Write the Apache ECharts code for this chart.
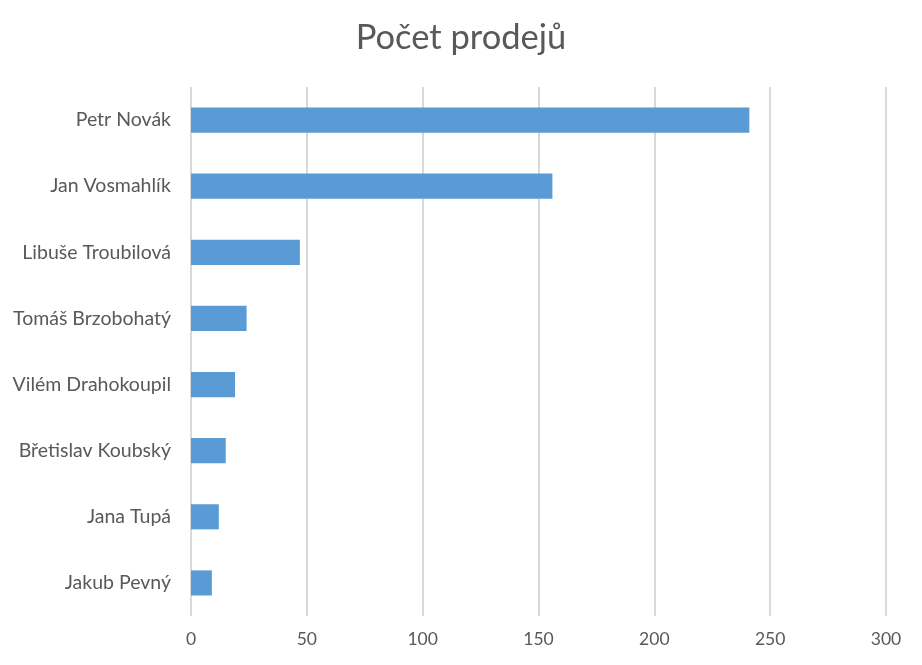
<!DOCTYPE html>
<html>
<head>
<meta charset="utf-8">
<script src="https://cdn.jsdelivr.net/npm/echarts@6/dist/echarts.min.js"></script>
<style>
html, body { margin: 0; padding: 0; background: #fff; }
#chart { width: 922px; height: 665px; }
</style>
</head>
<body>
<div id="chart"></div>
<script>
// prodejci shora dolů
var sellers = ['Petr Novák', 'Jan Vosmahlík', 'Libuše Troubilová', 'Tomáš Brzobohatý',
    'Vilém Drahokoupil', 'Břetislav Koubský', 'Jana Tupá', 'Jakub Pevný'];
var salesCount = [241, 156, 47, 24, 19, 15, 12, 9];
var axisMax = 300;
var axisStep = 50;

var textColor = '#595959';
var fontName = 'Lato, "Open Sans", sans-serif';

var chart = echarts.init(document.getElementById('chart'));

chart.setOption({
    backgroundColor: '#ffffff',
    animation: false,
    title: {
        text: 'Počet prodejů',
        left: 'center',
        top: 15,
        textStyle: { color: textColor, fontSize: 34.5, fontWeight: 'normal', fontFamily: fontName }
    },
    grid: { left: 191, right: 36, top: 87, bottom: 49, containLabel: false },
    xAxis: {
        type: 'value',
        min: 0,
        max: axisMax,
        interval: axisStep,
        axisLine: { show: false },
        axisTick: { show: false },
        axisLabel: { color: textColor, fontSize: 17.5, fontFamily: fontName, margin: 14 },
        splitLine: { lineStyle: { color: '#d9d9d9', width: 2 } }
    },
    yAxis: {
        type: 'category',
        data: sellers,
        inverse: true,
        axisLine: { show: false },
        axisTick: { show: false },
        axisLabel: { color: textColor, fontSize: 19.5, fontFamily: fontName, margin: 20 },
        splitLine: { show: false }
    },
    series: [{
        name: 'Počet prodejů',
        type: 'bar',
        data: salesCount,
        barCategoryGap: '62%',
        itemStyle: { color: '#5b9bd5' }
    }]
});
</script>
</body>
</html>
